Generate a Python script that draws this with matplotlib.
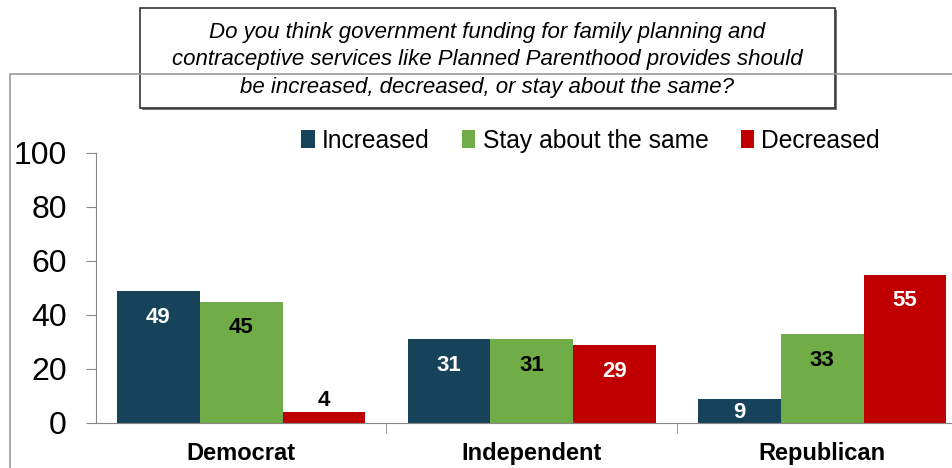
import matplotlib
matplotlib.use("Agg")
import matplotlib.pyplot as plt
from matplotlib.patches import Rectangle
from matplotlib.lines import Line2D
import numpy as np

plt.rcParams['font.family'] = ['Liberation Sans', 'DejaVu Sans']

groups = ["Democrat", "Independent", "Republican"]
series = ["Increased", "Stay about the same", "Decreased"]
increased = [49, 31, 9]
same = [45, 31, 33]
decreased = [4, 29, 55]
colors = ["#17435A", "#70AD47", "#C00000"]
text_colors = ["white", "black", "white"]
question = ("Do you think government funding for family planning and\n"
            "contraceptive services like Planned Parenthood provides should\n"
            "be increased, decreased, or stay about the same?")

W, H = 953, 468
fig = plt.figure(figsize=(W / 100, H / 100), dpi=100)

# outer frame
fig.add_artist(Line2D([10 / W, 10 / W, 1], [0, 1 - 74 / H, 1 - 74 / H],
                      transform=fig.transFigure, color="#9a9a9a", lw=1.2))

ax = fig.add_axes([96 / W, 45 / H, (W - 96) / W, 270 / H])
x = np.arange(len(groups))
bw = 0.285
for i, (name, vals) in enumerate(zip(series, [increased, same, decreased])):
    pos = x + (i - 1) * bw
    bars = ax.bar(pos, vals, bw, color=colors[i], label=name, zorder=2)
    for b, v in zip(bars, vals):
        cx = b.get_x() + b.get_width() / 2
        if v < 6:
            ax.annotate(str(v), (cx, v), xytext=(0, 1), textcoords="offset points",
                        ha="center", va="bottom", fontsize=16, fontweight="bold",
                        color="black")
        elif v < 15:
            ax.annotate(str(v), (cx, v / 2), xytext=(0, -1), textcoords="offset points",
                        ha="center", va="center", fontsize=16, fontweight="bold",
                        color=text_colors[i])
        else:
            ax.annotate(str(v), (cx, v), xytext=(0, -19), textcoords="offset points",
                        ha="center", va="center", fontsize=16, fontweight="bold",
                        color=text_colors[i])

ax.set_ylim(0, 100)
ax.set_xlim(-0.5, 2.5 - 14.5 / 291)
ax.set_yticks(range(0, 101, 20))
ax.tick_params(axis="y", labelsize=23, length=7, color="#888888", pad=14)
ax.set_xticks(x)
ax.set_xticklabels(groups, fontsize=17, fontweight="bold")
ax.tick_params(axis="x", length=0, pad=14)
ax.set_xticks([0.5, 1.5], minor=True)
ax.tick_params(axis="x", which="minor", length=7, color="#888888")
for s in ["top", "right"]:
    ax.spines[s].set_visible(False)
for s in ["left", "bottom"]:
    ax.spines[s].set_color("#888888")

fig.legend(loc="center left", bbox_to_anchor=(289 / W, 1 - 141 / H), ncol=3,
           frameon=False, fontsize=17.7, handlelength=0.55, handleheight=0.75,
           handletextpad=0.3, columnspacing=1.3, borderpad=0)

# question box with slight shadow
fig.add_artist(Rectangle((142 / W, 1 - 110 / H), 695 / W, 100 / H,
                         transform=fig.transFigure, facecolor="#777777",
                         edgecolor="none"))
fig.add_artist(Rectangle((140 / W, 1 - 108 / H), 695 / W, 100 / H,
                         transform=fig.transFigure, facecolor="white",
                         edgecolor="#333333", lw=1.2))
fig.text(487.5 / W, 1 - 60 / H, question, ha="center", va="center",
         fontsize=16, style="italic", linespacing=1.38)

fig.savefig("out.png", dpi=100)
